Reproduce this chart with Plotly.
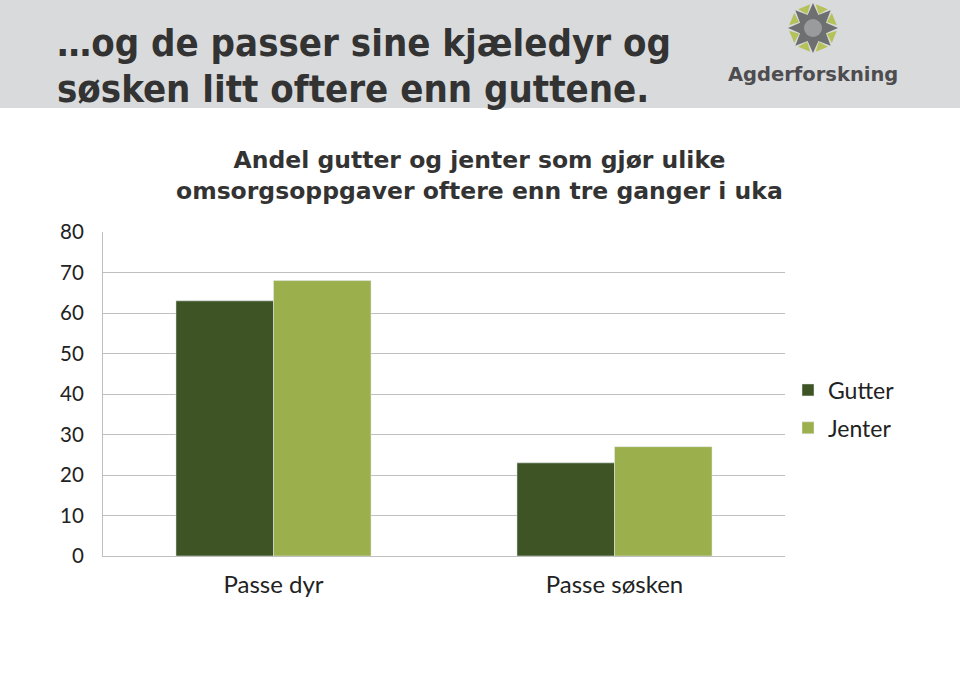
import math
import plotly.graph_objects as go

categories = ["Passe dyr", "Passe søsken"]
gutter = [63, 23]
jenter = [68, 27]
series_names = ["Gutter", "Jenter"]
y_ticks = [0, 10, 20, 30, 40, 50, 60, 70, 80]

W, H = 960, 684
L, R, T, B = 103, 785, 232, 556
pw, ph = R - L, B - T

def px(x):
    return (x - L) / pw

def py(y):
    return (B - y) / ph

fig = go.Figure()
fig.add_trace(go.Bar(name=series_names[0], x=categories, y=gutter, marker_color="#3E5424", legendgroup="g"))
fig.add_trace(go.Bar(name=series_names[1], x=categories, y=jenter, marker_color="#9BAF4C", legendgroup="j"))

shapes = [
    dict(type="rect", xref="paper", yref="paper", x0=px(0), x1=px(W), y0=py(0), y1=py(108),
         fillcolor="#D9DADB", line=dict(width=0), layer="below"),
]

# logo star
cx, cy = px(813), py(28)
def poly(points):
    return "M " + " L ".join(f"{x:.2f},{y:.2f}" for x, y in points) + " Z"

pts = []
for i in range(16):
    a = math.pi / 2 + i * math.pi / 8
    r = 25 if i % 2 == 0 else 14
    pts.append((r * math.cos(a), r * math.sin(a)))
shapes.append(dict(type="path", xref="paper", yref="paper", xsizemode="pixel", ysizemode="pixel",
                   xanchor=cx, yanchor=cy, path=poly(pts), fillcolor="#6E6F71", line=dict(width=0)))
shapes.append(dict(type="circle", xref="paper", yref="paper", xsizemode="pixel", ysizemode="pixel",
                   xanchor=cx, yanchor=cy, x0=-9, x1=9, y0=-9, y1=9, fillcolor="#9A9B9D", line=dict(width=0)))
for i in range(8):
    a = math.pi / 2 + math.pi / 8 + i * math.pi / 4
    a1 = a - 0.28
    a2 = a + 0.28
    p = [(15 * math.cos(a), 15 * math.sin(a)),
         (24 * math.cos(a1), 24 * math.sin(a1)),
         (24 * math.cos(a2), 24 * math.sin(a2))]
    shapes.append(dict(type="path", xref="paper", yref="paper", xsizemode="pixel", ysizemode="pixel",
                       xanchor=cx, yanchor=cy, path=poly(p), fillcolor="#B5C25A", line=dict(width=0)))

title_font = dict(family="DejaVu Sans Condensed, DejaVu Sans", size=38, color="#333333", weight="bold")
annotations = [
    dict(text="…og de passer sine kjæledyr og", x=px(55), y=py(43), xref="paper", yref="paper",
         xanchor="left", yanchor="middle", showarrow=False, font=title_font),
    dict(text="søsken litt oftere enn guttene.", x=px(55), y=py(89), xref="paper", yref="paper",
         xanchor="left", yanchor="middle", showarrow=False, font=title_font),
    dict(text="Agderforskning", x=px(813), y=py(74), xref="paper", yref="paper",
         xanchor="center", yanchor="middle", showarrow=False,
         font=dict(family="DejaVu Sans", size=19.5, color="#4D4D4F", weight="bold")),
    dict(text="Andel gutter og jenter som gjør ulike<br>omsorgsoppgaver oftere enn tre ganger i uka",
         x=px(480), y=py(176), xref="paper", yref="paper",
         xanchor="center", yanchor="middle", showarrow=False,
         font=dict(family="DejaVu Sans", size=23.5, color="#333333", weight="bold")),
]

fig.update_layout(
    width=W, height=H,
    margin=dict(l=L, r=W - R, t=T, b=H - B, pad=0),
    paper_bgcolor="white", plot_bgcolor="white",
    barmode="group", bargap=0.428, bargroupgap=0,
    shapes=shapes, annotations=annotations,
    showlegend=True,
    legend=dict(x=px(788), y=py(409), xanchor="left", yanchor="middle",
                font=dict(family="Lato", size=23, color="#222222"),
                tracegroupgap=5, itemwidth=30),
    font=dict(family="Lato", size=20, color="#222222"),
)
fig.update_yaxes(range=[0, 80], tickvals=y_ticks, showgrid=True, gridcolor="#BFBFBF", gridwidth=1,
                 showline=True, linecolor="#BFBFBF", linewidth=1, zeroline=False,
                 ticks="", ticklabelstandoff=14, tickfont=dict(family="Lato", size=20.5, color="#222222"))
fig.update_xaxes(showline=True, linecolor="#BFBFBF", linewidth=1, ticks="",
                 ticklabelstandoff=7, tickfont=dict(family="Lato", size=24, color="#222222"))

fig.write_html("out.html", config={"displayModeBar": False},
               post_script="document.body.style.margin='0';document.body.style.padding='0';")
